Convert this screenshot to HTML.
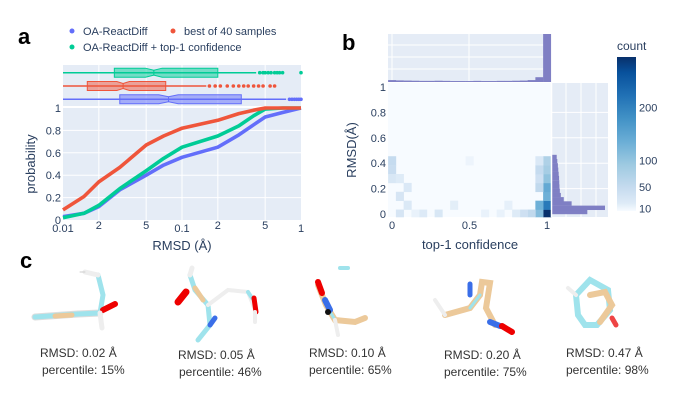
<!DOCTYPE html>
<html><head><meta charset="utf-8"><style>
body{margin:0;background:#fff;}
svg{display:block;font-family:"Liberation Sans",Arial,sans-serif;}
.t{fill:#2a3f5f;font-size:11px;}
</style></head><body>
<svg id="s" width="690" height="411" viewBox="0 0 690 411" xmlns="http://www.w3.org/2000/svg">
<text x="18" y="44" font-size="22" font-weight="bold">a</text>
<text x="342" y="50" font-size="22" font-weight="bold">b</text>
<text x="20" y="268" font-size="22" font-weight="bold">c</text>
<g id="pa"></g>
<g id="pb"></g>
<g id="pc">
 <g stroke-linecap="round" fill="none">
  <polyline points="35,317 78,314 100,313" stroke="#ddd" stroke-width="7"/>
  <polyline points="35,317 78,314 100,313" stroke="#9fe3ec" stroke-width="5"/>
  <polyline points="55,316 72,315" stroke="#ecc99a" stroke-width="5"/>
  <polyline points="100,313 103,295 98,275" stroke="#9fe3ec" stroke-width="5"/>
  <polyline points="103,310 115,304" stroke="#e00" stroke-width="6"/>
  <polyline points="98,275 85,272 M98,275 104,265" stroke="#eee" stroke-width="5"/>
  <polyline points="85,272 80,272" stroke="#ccc" stroke-width="1"/>
  <polyline points="100,313 102,328" stroke="#eee" stroke-width="5"/>
 </g>
 <g stroke-linecap="round" fill="none">
  <polyline points="190,275 195,290 208,305 210,325 198,340" stroke="#9fe3ec" stroke-width="5"/>
  <polyline points="195,288 203,300" stroke="#ecc99a" stroke-width="5"/>
  <polyline points="186,292 178,302" stroke="#e00" stroke-width="7"/>
  <polyline points="210,325 215,318" stroke="#3a6ee8" stroke-width="5"/>
  <polyline points="208,305 228,290 248,292 255,310" stroke="#eee" stroke-width="4"/>
  <polyline points="248,292 252,298" stroke="#9fe3ec" stroke-width="4"/>
  <polyline points="254,298 256,312" stroke="#e00" stroke-width="5"/>
  <polyline points="255,312 255,322" stroke="#eee" stroke-width="4"/>
  <polyline points="190,275 192,268 M195,330 188,328" stroke="#eee" stroke-width="5"/>
 </g>
 <g stroke-linecap="round" fill="none">
  <polyline points="318,285 326,305 335,320 355,322 365,318" stroke="#ecc99a" stroke-width="6"/>
  <polyline points="326,305 335,320 M355,322 365,318" stroke="#9fe3ec" stroke-width="3"/>
  <polyline points="318,282 322,293" stroke="#e00" stroke-width="6"/>
  <polyline points="325,300 330,310" stroke="#3a6ee8" stroke-width="6"/>
  <circle cx="328" cy="312" r="3" fill="#111"/>
  <polyline points="335,320 338,335 M365,318 370,333 M365,318 367,300 M335,305 342,296" stroke="#eee" stroke-width="4"/>
  <polyline points="340,268 348,268 M344,262 350,268" stroke="#9fe3ec" stroke-width="4"/>
 </g>
 <g stroke-linecap="round" fill="none">
  <polyline points="445,315 470,308 480,295 482,282 490,283 486,308 495,325" stroke="#ecc99a" stroke-width="6"/>
  <polyline points="470,308 480,295 M486,308 495,325" stroke="#9fe3ec" stroke-width="3"/>
  <polyline points="470,284 470,295" stroke="#3a6ee8" stroke-width="5"/>
  <polyline points="490,322 500,326" stroke="#3a6ee8" stroke-width="6"/>
  <polyline points="502,326 512,332" stroke="#e00" stroke-width="6"/>
  <polyline points="445,315 435,300 M445,315 443,330 M490,283 500,278 M480,280 478,270" stroke="#eee" stroke-width="4"/>
 </g>
 <g stroke-linecap="round" fill="none">
  <polyline points="576,295 590,280 608,290 610,310 597,325 585,325 578,315 576,295" stroke="#9fe3ec" stroke-width="6"/>
  <polyline points="590,295 605,292 612,305 600,322" stroke="#ecc99a" stroke-width="6"/>
  <polyline points="612,318 616,325" stroke="#e44" stroke-width="5"/>
  <polyline points="576,295 568,288 M608,290 630,288 M585,325 585,340 M597,325 597,340 M590,280 592,265" stroke="#eee" stroke-width="4"/>
 </g>
 <g font-size="12" fill="#333">
  <text x="40" y="357">RMSD: 0.02 Å</text>
  <text x="42" y="374">percentile: 15%</text>
  <text x="178" y="359">RMSD: 0.05 Å</text>
  <text x="179" y="376">percentile: 46%</text>
  <text x="309" y="357">RMSD: 0.10 Å</text>
  <text x="309" y="374">percentile: 65%</text>
  <text x="444" y="359">RMSD: 0.20 Å</text>
  <text x="444" y="376">percentile: 75%</text>
  <text x="566" y="357">RMSD: 0.47 Å</text>
  <text x="566" y="374">percentile: 98%</text>
 </g>
</g>
</svg>
<script>
// ---------- Panel A data ----------
const cdfRmsd = [0.01,0.015,0.02,0.03,0.05,0.07,0.1,0.2,0.3,0.4,0.5,0.7,1.0];
const cdfBlue = [0.03,0.06,0.12,0.27,0.40,0.49,0.56,0.65,0.76,0.85,0.92,0.96,1.0];
const cdfGreen = [0.02,0.06,0.13,0.28,0.44,0.55,0.65,0.75,0.84,0.93,0.99,1.0,1.0];
const cdfRed = [0.09,0.21,0.34,0.47,0.67,0.75,0.82,0.89,0.95,0.98,1.0,1.0,1.0];
const boxGreen = [0.01,0.027,0.058,0.2,0.42];
const boxRed = [0.01,0.016,0.032,0.073,0.16];
const boxBlue = [0.01,0.03,0.077,0.315,0.75];
const outGreen = [0.45,0.48,0.5,0.53,0.56,0.6,0.63,0.66,0.7,1.0];
const outRed = [0.17,0.19,0.21,0.24,0.27,0.3,0.33,0.36,0.4,0.44,0.48,0.55,0.6];
const outBlue = [0.8,0.84,0.88,0.92,0.96,1.0];
const xTicksA = [0.01,0.02,0.05,0.1,0.2,0.5,1];
const xTickLabelsA = ["0.01","2","5","0.1","2","5","1"];
const yTicksA = [0,0.2,0.4,0.6,0.8,1];
// ---------- Panel B data ----------
const heatConf = [1.0,1.0,0.95,0.95,1.0,1.0,1.0,1.0,0.95,0.95,0.95,1.0,0.95,0.9,0.85,0.8,0.0,0.0,0.0,0.05,0.1,0.05,0.1,0.4,0.05,0.2,0.3,0.6,0.7,0.75,0.5,0.15];
const heatRmsd = [0.0,0.07,0.0,0.07,0.14,0.21,0.28,0.35,0.21,0.28,0.35,0.42,0.42,0.0,0.0,0.0,0.42,0.35,0.28,0.28,0.21,0.14,0.07,0.07,0.0,0.0,0.0,0.0,0.0,0.07,0.42,0.0];
const heatCount = [295,210,110,130,130,140,100,80,50,35,45,70,20,50,35,15,45,40,22,15,20,25,18,12,25,16,22,8,8,10,6,8];
const topHistConf = [0,0.05,0.1,0.15,0.2,0.25,0.3,0.35,0.4,0.45,0.5,0.55,0.6,0.65,0.7,0.75,0.8,0.85,0.9,0.95,1.0];
const topHistCount = [12,10,9,8,7,7,8,7,6,6,6,7,6,6,7,7,8,9,12,30,300];
const rightHistRmsd = [0.0,0.033,0.067,0.1,0.133,0.167,0.2,0.233,0.267,0.3,0.333,0.367,0.4,0.433];
const rightHistCount = [180,270,100,60,45,40,38,37,36,34,32,30,27,24];
const cbTicks = [10,50,100,200];
const xTicksB = [0,0.5,1];
const yTicksB = [0,0.2,0.4,0.6,0.8,1];

const NS="http://www.w3.org/2000/svg";
function mk(parent,tag,attrs,text){const e=document.createElementNS(NS,tag);for(const k in attrs)e.setAttribute(k,attrs[k]);if(text!==undefined)e.textContent=text;parent.appendChild(e);return e;}

// ---------- Panel A ----------
const pa=document.getElementById('pa');
const AX0=63,AX1=301,AY0=220,AY1=108;
const xA=v=>AX0+(Math.log10(v)+2)/2*(AX1-AX0);
const yA=p=>AY0-p*(AY0-AY1);
let r=mk(pa,'rect',{x:AX0,y:AY1,width:AX1-AX0,height:AY0-AY1,fill:'#e5ecf6'});

r=mk(pa,'rect',{x:AX0,y:65,width:AX1-AX0,height:41,fill:'#e5ecf6'});

xTicksA.forEach((t,i)=>{
  if(i>0&&i<xTicksA.length-1){mk(pa,'line',{x1:xA(t),x2:xA(t),y1:AY1,y2:AY0,stroke:'#fff','stroke-width':1});
   mk(pa,'line',{x1:xA(t),x2:xA(t),y1:65,y2:106,stroke:'#fff','stroke-width':1});}
  const small=xTickLabelsA[i].length===1&&xTickLabelsA[i]!=="1";
  const tx=mk(pa,'text',{x:xA(t),y:small?229:232,'text-anchor':'middle',class:'t','font-size':small?8:11},xTickLabelsA[i]);
  
});
yTicksA.forEach(t=>{
  if(t>0&&t<1)mk(pa,'line',{x1:AX0,x2:AX1,y1:yA(t),y2:yA(t),stroke:'#fff','stroke-width':1});
  const tx=mk(pa,'text',{x:AX0-2,y:yA(t)+4,'text-anchor':'end',class:'t'},String(t));
  
});
mk(pa,'line',{x1:AX0,x2:AX1,y1:107,y2:107,stroke:'#fff','stroke-width':2});
function curve(ys,col,name){const pts=cdfRmsd.map((v,i)=>xA(v).toFixed(1)+','+yA(ys[i]).toFixed(1)).join(' ');
  const p=mk(pa,'polyline',{points:pts,fill:'none',stroke:col,'stroke-width':3.6,'stroke-linejoin':'round'});
  }
curve(cdfBlue,'#636efa','cdf-oa-reactdiff');
curve(cdfGreen,'#00cc96','cdf-top1-confidence');
curve(cdfRed,'#ef553b','cdf-best-of-40');
function box(b,outs,y,col,fill,name){
  const g=mk(pa,'g',{});
  mk(g,'line',{x1:xA(b[0]),x2:xA(b[4]),y1:y,y2:y,stroke:col,'stroke-width':1.5});
  const x1=xA(b[1]),x3=xA(b[3]),m=xA(b[2]),h=4.5,n=2.5,w=(x3-x1)*0.08;
  mk(g,'polygon',{points:`${x1},${y-h} ${m-w},${y-h} ${m},${y-n} ${m+w},${y-h} ${x3},${y-h} ${x3},${y+h} ${m+w},${y+h} ${m},${y+n} ${m-w},${y+h} ${x1},${y+h}`,fill:fill,stroke:col,'stroke-width':1});
  mk(g,'line',{x1:m,x2:m,y1:y-n,y2:y+n,stroke:col,'stroke-width':1});
  outs.forEach(o=>mk(g,'circle',{cx:xA(o),cy:y,r:1.8,fill:col}));
}
box(boxGreen,outGreen,72.7,'#00cc96','rgba(0,204,150,0.5)','box-top1-confidence');
box(boxRed,outRed,86,'#ef553b','rgba(239,85,59,0.5)','box-best-of-40');
box(boxBlue,outBlue,99.3,'#636efa','rgba(99,110,250,0.5)','box-oa-reactdiff');
let t=mk(pa,'text',{x:182,y:250,'text-anchor':'middle',fill:'#2a3f5f','font-size':13},'RMSD (Å)');

t=mk(pa,'text',{x:35,y:164,'text-anchor':'middle',fill:'#2a3f5f','font-size':13,transform:'rotate(-90 35 164)'},'probability');

[[72,35,'#636efa','OA-ReactDiff'],[173,35,'#ef553b','best of 40 samples'],[72,51,'#00cc96','OA-ReactDiff + top-1 confidence']].forEach(l=>{
  const g=mk(pa,'g',{});
  mk(g,'circle',{cx:l[0],cy:l[1]-4,r:2.5,fill:l[2]});
  mk(g,'text',{x:l[0]+11,y:l[1],fill:'#2a3f5f','font-size':11},l[3]);
});

// ---------- Panel B ----------
const pb=document.getElementById('pb');
const BX0=392,BX1=547,BY0=214,BY1=87;
const xB=c=>BX0+c*(BX1-BX0);
const yB=v=>BY0-v*(BY0-BY1);
const CMAX=295;
const stops=[[0,[247,251,255]],[0.05,[222,235,247]],[0.15,[198,219,239]],[0.3,[158,202,225]],[0.45,[107,174,214]],[0.6,[66,146,198]],[0.75,[33,113,181]],[0.9,[8,81,156]],[1,[8,48,107]]];
function cmap(f){f=Math.max(0,Math.min(1,f));for(let i=1;i<stops.length;i++){if(f<=stops[i][0]){const a=stops[i-1],b=stops[i],u=(f-a[0])/(b[0]-a[0]);return 'rgb('+a[1].map((c,k)=>Math.round(c+(b[1][k]-c)*u)).join(',')+')';}}return 'rgb(8,48,107)';}
r=mk(pb,'rect',{x:388,y:83,width:163,height:134,fill:'#f7fbff'});

heatConf.forEach((c,i)=>{
  const x=xB(c-0.025),w=xB(0.05)-xB(0);
  const y=Math.max(83,yB(heatRmsd[i]+0.035)),y2=Math.min(217,yB(heatRmsd[i]-0.035));
  const e=mk(pb,'rect',{x:x,y:y,width:w+0.3,height:y2-y+0.3,fill:cmap(heatCount[i]/CMAX)});
  
});
r=mk(pb,'rect',{x:388,y:34,width:163,height:48,fill:'#e5ecf6'});

[45,57,69].forEach(y=>mk(pb,'line',{x1:388,x2:551,y1:y,y2:y,stroke:'#fff'}));
[392,469,547].forEach(x=>mk(pb,'line',{x1:x,x2:x,y1:34,y2:82,stroke:'#fff'}));
const topMax=300;
topHistConf.forEach((c,i)=>{const h=topHistCount[i]/topMax*48;
  const e=mk(pb,'rect',{x:xB(c-0.025),y:82-h,width:xB(0.05)-xB(0)+0.2,height:h,fill:'#7f7fc4'});
  });
r=mk(pb,'rect',{x:552,y:83,width:56,height:134,fill:'#e5ecf6'});

[566,581,596].forEach(x=>mk(pb,'line',{x1:x,x2:x,y1:83,y2:217,stroke:'#fff'}));
[yB(0.2),yB(0.4),yB(0.6),yB(0.8)].forEach(y=>mk(pb,'line',{x1:552,x2:608,y1:y,y2:y,stroke:'#fff'}));
const rMax=270;
rightHistRmsd.forEach((v,i)=>{const w=rightHistCount[i]/rMax*53;
  const y=Math.min(yB(v+0.033),217),y2=Math.min(217,yB(v));
  const e=mk(pb,'rect',{x:552,y:y,width:w,height:Math.max(0,y2-y+0.2),fill:'#7f7fc4'});
  });
mk(pb,'line',{x1:551.5,x2:551.5,y1:83,y2:217,stroke:'#fff','stroke-width':1.5});
xTicksB.forEach(c=>{const e=mk(pb,'text',{x:xB(c),y:229,'text-anchor':'middle',class:'t'},String(c));
  });
yTicksB.forEach(v=>{const e=mk(pb,'text',{x:386,y:yB(v)+4,'text-anchor':'end',class:'t'},String(v));
  });
t=mk(pb,'text',{x:470,y:249,'text-anchor':'middle',fill:'#2a3f5f','font-size':13},'top-1 confidence');

t=mk(pb,'text',{x:356,y:150,'text-anchor':'middle',fill:'#2a3f5f','font-size':13,transform:'rotate(-90 356 150)'},'RMSD(Å)');

const defs=mk(pb,'defs',{});const lg=mk(defs,'linearGradient',{id:'cb',x1:0,y1:1,x2:0,y2:0});
stops.forEach(s=>mk(lg,'stop',{offset:s[0],'stop-color':'rgb('+s[1].join(',')+')'}));
r=mk(pb,'rect',{x:617,y:57,width:19,height:154,fill:'url(#cb)'});

const cbY=v=>211-(v-5)/(CMAX-5)*154;
cbTicks.forEach(v=>{const e=mk(pb,'text',{x:639,y:cbY(v)+4,class:'t'},String(v));
  });
t=mk(pb,'text',{x:617,y:50,fill:'#2a3f5f','font-size':12},'count');

</script>
</body></html>
